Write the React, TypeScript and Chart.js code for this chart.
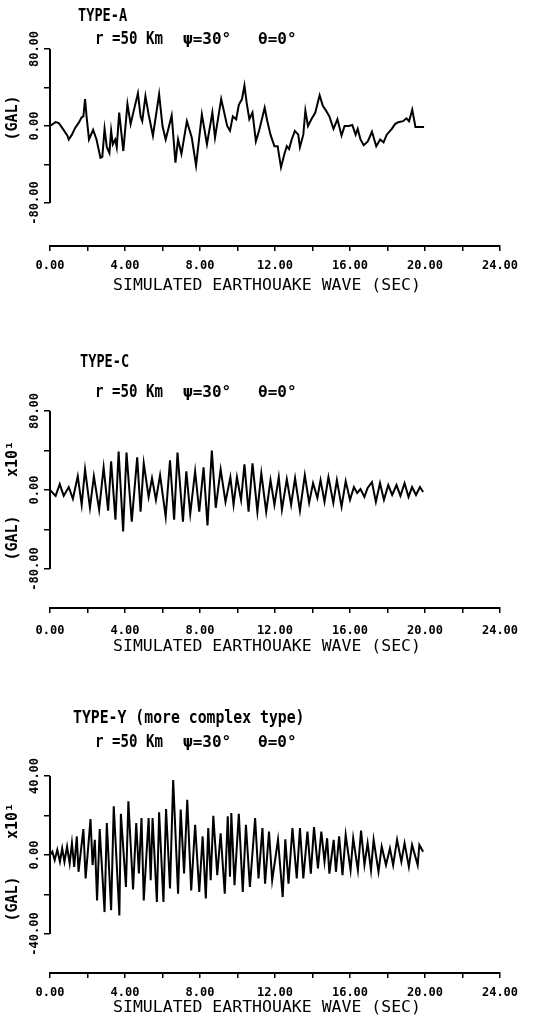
import React, { useEffect, useRef } from "react";
import { Chart, registerables } from "chart.js";

Chart.register(...registerables);

const MONO = '"DejaVu Sans Mono", "Liberation Mono", monospace';

// ---- TYPE-A record (GAL) ----
const typeATime = [0, 0.30, 0.47, 0.65, 0.93, 1.00, 1.17, 1.34, 1.52, 1.69, 1.78, 1.87, 1.95, 2.08, 2.30, 2.48, 2.69, 2.79, 2.91, 3.03, 3.17, 3.26, 3.35, 3.48, 3.56, 3.69, 3.91, 4.13, 4.30, 4.48, 4.69, 4.83, 4.92, 5.09, 5.26, 5.49, 5.82, 6.00, 6.17, 6.49, 6.69, 6.83, 7.01, 7.30, 7.56, 7.79, 8.10, 8.37, 8.66, 8.80, 9.13, 9.45, 9.60, 9.75, 9.93, 10.07, 10.24, 10.37, 10.49, 10.63, 10.80, 10.98, 11.15, 11.45, 11.59, 11.76, 11.97, 12.14, 12.32, 12.50, 12.63, 12.75, 12.89, 13.06, 13.24, 13.33, 13.51, 13.62, 13.76, 13.94, 14.15, 14.38, 14.55, 14.72, 14.90, 15.12, 15.33, 15.55, 15.71, 15.94, 16.12, 16.30, 16.41, 16.56, 16.73, 16.95, 17.17, 17.40, 17.61, 17.79, 17.96, 18.23, 18.40, 18.57, 18.83, 19.01, 19.15, 19.32, 19.49, 19.95];
const typeAAccel = [0, 4, 3, -2, -10, -14, -9, -2, 3, 9, 10, 28, 10, -14, -4, -14, -33, -32, -3, -22, -28, -5, -19, -14, -22, 14, -26, 23, 2, 17, 34, 10, 5, 31, 12, -10, 33, 0, -14, 11, -38, -14, -29, 5, -12, -41, 12, -19, 14, -12, 28, 0, -5, 10, 7, 22, 28, 42, 24, 7, 14, -16, -5, 19, 5, -9, -21, -21, -43, -29, -21, -24, -14, -5, -9, -22, -9, 16, 0, 7, 14, 32, 21, 16, 10, -3, 7, -10, 0, 0, 1, -9, -3, -14, -20, -16, -6, -21, -14, -17, -9, -3, 2, 4, 5, 8, 5, 17, -1, -1];

// ---- TYPE-C record (GAL x10) ----
const typeCTime = [0, 0.30, 0.52, 0.73, 1.00, 1.22, 1.48, 1.69, 1.87, 2.13, 2.34, 2.62, 2.86, 3.10, 3.26, 3.49, 3.66, 3.90, 4.08, 4.36, 4.65, 4.83, 5.00, 5.26, 5.44, 5.65, 5.87, 6.17, 6.40, 6.62, 6.80, 7.09, 7.27, 7.48, 7.74, 7.96, 8.19, 8.40, 8.63, 8.84, 9.10, 9.36, 9.62, 9.79, 9.97, 10.19, 10.37, 10.59, 10.80, 11.06, 11.27, 11.53, 11.76, 11.97, 12.20, 12.37, 12.63, 12.86, 13.07, 13.33, 13.59, 13.82, 14.03, 14.26, 14.43, 14.64, 14.85, 15.11, 15.30, 15.55, 15.77, 16.00, 16.21, 16.38, 16.56, 16.77, 16.94, 17.17, 17.38, 17.60, 17.81, 18.04, 18.25, 18.48, 18.69, 18.91, 19.12, 19.31, 19.52, 19.73, 19.90];
const typeCAccel = [0, -6, 6, -6, 3, -9, 14, -15, 21, -18, 14, -20, 23, -21, 29, -30, 39, -42, 38, -32, 33, -22, 27, -7, 12, -10, 15, -27, 30, -30, 38, -32, 19, -24, 19, -22, 23, -36, 40, -18, 21, -12, 13, -15, 13, -10, 26, -22, 27, -22, 17, -22, 10, -15, 13, -20, 11, -15, 12, -21, 15, -13, 7, -8, 10, -12, 13, -13, 10, -17, 9, -10, 3, -3, 1, -7, 2, 8, -12, 7, -10, 5, -5, 5, -6, 7, -7, 3, -5, 3, -2];

// ---- TYPE-Y record (GAL x10) ----
const typeYTime = [0, 0.125, 0.25, 0.39, 0.53, 0.65, 0.77, 0.91, 1.05, 1.17, 1.29, 1.43, 1.52, 1.78, 1.90, 2.16, 2.27, 2.39, 2.51, 2.65, 2.91, 3.03, 3.26, 3.40, 3.70, 3.78, 4.05, 4.18, 4.43, 4.60, 4.74, 4.88, 5.00, 5.26, 5.37, 5.47, 5.70, 5.82, 6.05, 6.19, 6.40, 6.57, 6.83, 6.97, 7.15, 7.32, 7.53, 7.74, 7.96, 8.14, 8.31, 8.44, 8.57, 8.71, 8.92, 9.10, 9.32, 9.48, 9.60, 9.67, 9.84, 10.07, 10.28, 10.45, 10.66, 10.94, 11.12, 11.33, 11.47, 11.68, 11.85, 12.16, 12.41, 12.55, 12.72, 12.93, 13.16, 13.33, 13.51, 13.73, 13.91, 14.08, 14.29, 14.47, 14.64, 14.78, 14.90, 15.13, 15.25, 15.42, 15.60, 15.77, 16.03, 16.17, 16.42, 16.59, 16.77, 16.94, 17.12, 17.26, 17.52, 17.69, 17.92, 18.13, 18.30, 18.51, 18.74, 18.91, 19.14, 19.31, 19.61, 19.70, 19.90];
const typeYAccel = [0, 1.7, -2.6, 2.6, -3.4, 3.4, -3.4, 4.3, -4.3, 6, -6, 9.4, -8.5, 13.1, -11.9, 18.2, -5.1, 7.7, -23, 13.1, -28.9, 16.2, -28, 24.7, -30.6, 20.9, -16.2, 27.2, -17.5, 16.2, -9.4, 18.7, -23, 18.7, -12.8, 18.7, -23.8, 21.6, -23.8, 23.3, -17, 38, -19.6, 23, -9.4, 28, -17.9, 15.3, -18.7, 9.4, -22, 13.6, -12.8, 19.9, -10.2, 11, -19.6, 19.6, -11, 21.3, -15.3, 20.9, -18.7, 15.3, -16.2, 18.7, -11.9, 13.6, -14.5, 11.9, -12.8, 7.7, -21.3, 8, -14.5, 13.6, -11.9, 13.6, -11.9, 11.9, -9.4, 14.1, -6.8, 11.9, -3.4, 8.5, -9.4, 7.7, -8.5, 9.4, -10.2, 10.2, -7.7, 8.5, -7.7, 12.4, -5.1, 6, -7.7, 7.7, -8.5, 4.3, -5.1, 3.4, -5.1, 7.7, -3.4, 6, -6, 5.1, -5.1, 5.1, 1.7];

// ---- axis ticks ----
const wideTicks = [-80, -40, 0, 40, 80];
const wideLabels = [-80, 0, 80];
const narrowTicks = [-40, -20, 0, 20, 40];
const narrowLabels = [-40, 0, 40];
const timeMin = 0;
const timeMax = 24;
const timeStep = 2;
const timeLabelEvery = 4;

const xTitle = "SIMULATED EARTHOUAKE WAVE (SEC)";
const paramParts = ["r =50 Km", "\u03c8=30\u00b0", "\u03b8=0\u00b0"];

type PanelSpec = {
  title: string;
  titleSx: number;
  time: number[];
  accel: number[];
  ticks: number[];
  labels: number[];
  scaled: boolean;
  // layout, page pixels
  top: number;
  height: number;
  yTop: number;
  yZero: number;
  yAxis: number;
  titleX: number;
  titleY: number;
  paramY: number;
  galY: number;
  tenY: number;
  xLabelPad: number;
  xTitleY: number;
  lineWidth: number;
};

const panels: PanelSpec[] = [
  {
    title: "TYPE-A", titleSx: 0.8, time: typeATime, accel: typeAAccel,
    ticks: wideTicks, labels: wideLabels, scaled: false,
    top: 0, height: 300, yTop: 49, yZero: 126, yAxis: 246,
    titleX: 78, titleY: 17, paramY: 40, galY: 118, tenY: 0,
    xLabelPad: 8, xTitleY: 286, lineWidth: 2,
  },
  {
    title: "TYPE-C", titleSx: 0.8, time: typeCTime, accel: typeCAccel,
    ticks: wideTicks, labels: wideLabels, scaled: true,
    top: 300, height: 360, yTop: 411, yZero: 490, yAxis: 608,
    titleX: 80, titleY: 363, paramY: 393, galY: 538, tenY: 459,
    xLabelPad: 11, xTitleY: 647, lineWidth: 2,
  },
  {
    title: "TYPE-Y (more complex type)", titleSx: 0.87, time: typeYTime, accel: typeYAccel,
    ticks: narrowTicks, labels: narrowLabels, scaled: true,
    top: 660, height: 363, yTop: 776, yZero: 855, yAxis: 973,
    titleX: 73, titleY: 719, paramY: 743, galY: 899, tenY: 821,
    xLabelPad: 8, xTitleY: 1008, lineWidth: 2,
  },
];

function drawText(
  ctx: CanvasRenderingContext2D,
  text: string,
  x: number,
  y: number,
  o: { size: number; bold?: boolean; sx?: number; align?: CanvasTextAlign; rotate?: boolean }
) {
  ctx.save();
  ctx.translate(x, y);
  if (o.rotate) ctx.rotate(-Math.PI / 2);
  ctx.scale(o.sx ?? 1, 1);
  ctx.font = `${o.bold ? "bold " : ""}${o.size}px ${MONO}`;
  ctx.textAlign = o.align ?? "left";
  ctx.textBaseline = "middle";
  ctx.fillStyle = "#000";
  ctx.fillText(text, 0, 0);
  ctx.restore();
}

function Panel({ p }: { p: PanelSpec }) {
  const ref = useRef<HTMLCanvasElement>(null);

  useEffect(() => {
    const canvas = ref.current;
    if (!canvas) return;
    const yMax = p.ticks[p.ticks.length - 1];
    const yMin = -yMax * (p.yAxis - p.yZero) / (p.yZero - p.yTop);
    const n = Math.min(p.time.length, p.accel.length);
    const points = [];
    for (let i = 0; i < n; i++) points.push({ x: p.time[i], y: p.accel[i] });

    const decorations = {
      id: "panelDecorations",
      afterDraw(chart: any) {
        const ctx: CanvasRenderingContext2D = chart.ctx;
        const ys = chart.scales.y;
        const left = chart.chartArea.left;
        const off = p.top;

        // vertical axis line, only over the labelled range
        ctx.save();
        ctx.strokeStyle = "#000";
        ctx.lineWidth = 2;
        ctx.beginPath();
        ctx.moveTo(left, ys.getPixelForValue(yMax));
        ctx.lineTo(left, ys.getPixelForValue(-yMax));
        ctx.stroke();
        ctx.restore();

        // rotated value labels
        for (const v of p.labels) {
          drawText(ctx, v.toFixed(2), 35, ys.getPixelForValue(v), { size: 12, bold: true, rotate: true, align: "center" });
        }
        drawText(ctx, "(GAL)", 13, p.galY - off, { size: 15, bold: true, rotate: true, align: "center" });
        if (p.scaled) {
          drawText(ctx, "x10\u00b9", 13, p.tenY - off, { size: 15, bold: true, rotate: true, align: "center" });
        }

        // headings
        drawText(ctx, p.title, p.titleX, p.titleY - off, { size: 17, bold: true, sx: p.titleSx });
        drawText(ctx, paramParts[0], 95, p.paramY - off, { size: 17, bold: true, sx: 0.83 });
        drawText(ctx, paramParts[1], 183, p.paramY - off, { size: 16, bold: true });
        drawText(ctx, paramParts[2], 258, p.paramY - off, { size: 16, bold: true });

        // horizontal axis title
        drawText(ctx, xTitle, 267, p.xTitleY - off, { size: 16.5, align: "center" });
      },
    };

    const chart = new Chart(canvas, {
      type: "line",
      data: {
        datasets: [
          {
            data: points,
            borderColor: "#000",
            borderWidth: p.lineWidth,
            pointRadius: 0,
            tension: 0,
            fill: false,
          },
        ],
      },
      options: {
        animation: false,
        responsive: false,
        devicePixelRatio: 1,
        layout: { padding: { left: 0, right: 36, top: p.yTop - p.top, bottom: 0 } },
        plugins: { legend: { display: false }, tooltip: { enabled: false } },
        scales: {
          x: {
            type: "linear",
            min: timeMin,
            max: timeMax,
            border: { display: true, color: "#000", width: 2 },
            grid: { display: true, drawOnChartArea: false, drawTicks: true, tickLength: 5, color: "#000", lineWidth: 1.5 },
            ticks: {
              stepSize: timeStep,
              autoSkip: false,
              maxRotation: 0,
              minRotation: 0,
              padding: p.xLabelPad,
              color: "#000",
              font: { family: MONO, size: 12, weight: "bold" },
              callback: (v: any) => (Number(v) % timeLabelEvery === 0 ? Number(v).toFixed(2) : ""),
            },
            afterFit: (s: any) => {
              s.height = p.height - (p.yAxis - p.top);
            },
          },
          y: {
            type: "linear",
            min: yMin,
            max: yMax,
            border: { display: false },
            grid: { display: true, drawOnChartArea: false, drawTicks: true, tickLength: 6, color: "#000", lineWidth: 1.5 },
            ticks: { display: false },
            afterBuildTicks: (s: any) => {
              s.ticks = p.ticks.map((v) => ({ value: v }));
            },
            afterFit: (s: any) => {
              s.width = 50;
            },
          },
        },
      } as any,
      plugins: [decorations],
    });
    return () => chart.destroy();
  }, [p]);

  return (
    <canvas
      ref={ref}
      width={536}
      height={p.height}
      style={{ position: "absolute", left: 0, top: p.top, width: 536, height: p.height }}
    />
  );
}

export default function App() {
  return (
    <div style={{ position: "absolute", left: 0, top: 0, width: 536, height: 1023, background: "#fff" }}>
      {panels.map((p) => (
        <Panel key={p.title} p={p} />
      ))}
    </div>
  );
}
